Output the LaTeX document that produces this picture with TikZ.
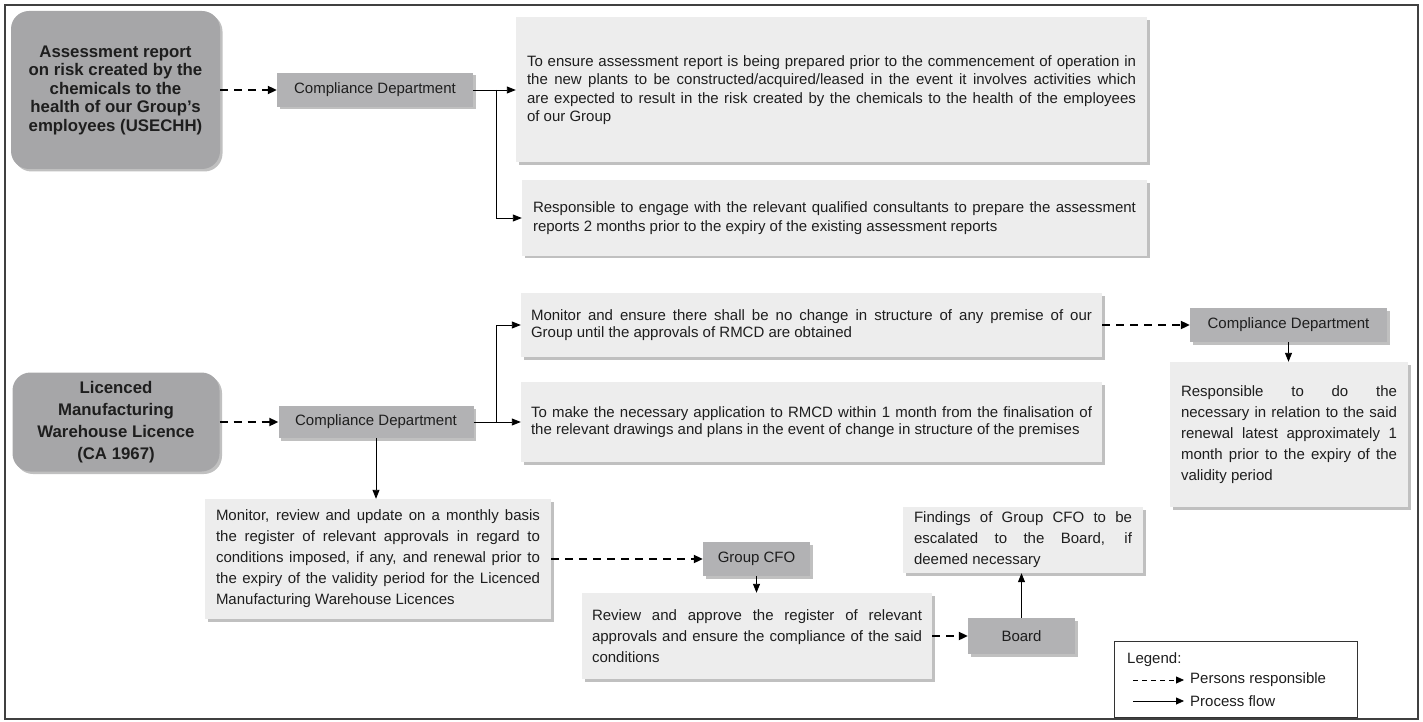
\documentclass[tikz,border=0pt]{standalone}
\usepackage{fontspec}
\setmainfont{Liberation Sans}
\usetikzlibrary{arrows.meta,shadows,positioning}
\definecolor{topicgray}{RGB}{166,166,168}
\definecolor{deptgray}{RGB}{178,178,180}
\definecolor{notegray}{RGB}{237,237,237}
\definecolor{inkgray}{RGB}{30,30,30}
% loose justified paragraphs with the breaks given by hand
\newcommand{\loosepar}{\tolerance=10000\relax\hbadness=10000\relax\hyphenpenalty=10000\relax}
\tikzset{
  boxshadow/.style={drop shadow={shadow xshift=2.5pt,shadow yshift=-2.5pt,opacity=0.45,fill=black!55}},
  topicbox/.style={fill=topicgray, rounded corners=18pt, boxshadow, align=center, inner sep=0pt,
    text=inkgray, font=\fontsize{16.8}{18.5}\selectfont\bfseries},
  deptbox/.style={fill=deptgray, boxshadow, inner sep=0pt, text=inkgray, font=\fontsize{15}{18}\selectfont},
  notebox/.style={fill=notegray, boxshadow, inner xsep=11pt, inner ysep=0pt, align=justify, text=inkgray,
    font=\fontsize{15}{18.5}\selectfont\loosepar},
  tightnote/.style={notebox, inner xsep=10pt, font=\fontsize{15}{17}\selectfont\loosepar},
  loosenote/.style={notebox, font=\fontsize{15}{21}\selectfont\loosepar},
  resp/.style={line width=2pt, dash pattern=on 8pt off 6pt, -{Triangle[length=9pt,width=8pt]}},
  flow/.style={line width=0.9pt, -{Triangle[length=9pt,width=7pt]}},
  legresp/.style={line width=0.8pt, dash pattern=on 5pt off 4pt, -{Triangle[length=8pt,width=7pt]}},
  legflow/.style={line width=0.8pt, -{Triangle[length=8pt,width=7pt]}}
}

\begin{document}
\begin{tikzpicture}[x=1pt, y=-1pt]
  \useasboundingbox (0,0) rectangle (1423,722);
  \draw[line width=1.6pt, black!75] (5,5) rectangle (1418,719);

  % first licence
  \node[topicbox, minimum width=209pt, minimum height=158pt] (asr) at (115.5,90)
    {Assessment report\\on risk created by the\\chemicals to the\\health of our Group’s\\employees (USECHH)};
  \node[deptbox, minimum width=196pt, minimum height=34pt] (cd1) at (375,90) {Compliance Department};
  \node[notebox, minimum height=145pt, text width=609pt] (prep) at (831.5,90)
    {To ensure assessment report is being prepared prior to the commencement of operation in\linebreak
     the new plants to be constructed/acquired/leased in the event it involves activities which\linebreak
     are expected to result in the risk created by the chemicals to the health of the employees\linebreak
     of our Group};
  \node[notebox, minimum height=75pt, text width=603pt] (engage) at (834.5,218)
    {Responsible to engage with the relevant qualified consultants to prepare the assessment\linebreak
     reports 2 months prior to the expiry of the existing assessment reports};

  % second licence
  \node[topicbox, minimum width=207pt, minimum height=99pt, font=\fontsize{16.8}{22}\selectfont\bfseries] (lic) at (116,422)
    {Licenced\\Manufacturing\\Warehouse Licence\\(CA 1967)};
  \node[deptbox, minimum width=195pt, minimum height=32pt] (cd2) at (376,422) {Compliance Department};
  \node[tightnote, minimum height=64pt, text width=561pt] (nochange) at (811.5,325)
    {Monitor and ensure there shall be no change in structure of any premise of our\linebreak
     Group until the approvals of RMCD are obtained};
  \node[tightnote, minimum height=80pt, text width=561pt] (apply) at (811.5,422)
    {To make the necessary application to RMCD within 1 month from the finalisation of\linebreak
     the relevant drawings and plans in the event of change in structure of the premises};
  \node[deptbox, minimum width=197pt, minimum height=34pt] (cd3) at (1288.5,325) {Compliance Department};
  \node[loosenote, minimum height=145pt, text width=216pt] (renew) at (1289,434.5)
    {Responsible to do the\linebreak
     necessary in relation to the said\linebreak
     renewal latest approximately 1\linebreak
     month prior to the expiry of the\linebreak
     validity period};
  \node[loosenote, minimum height=120pt, text width=324pt] (monitor) at (378,559)
    {Monitor, review and update on a monthly basis\linebreak
     the register of relevant approvals in regard to\linebreak
     conditions imposed, if any, and renewal prior to\linebreak
     the expiry of the validity period for the Licenced\linebreak
     Manufacturing Warehouse Licences};
  \node[deptbox, minimum width=107pt, minimum height=34pt] (cfo) at (756.5,559) {Group CFO};
  \node[loosenote, inner xsep=10pt, minimum height=86pt, text width=330pt] (review) at (757,636)
    {Review and approve the register of relevant\linebreak
     approvals and ensure the compliance of the said\linebreak
     conditions};
  \node[deptbox, minimum width=107pt, minimum height=36pt] (board) at (1021.5,636) {Board};
  \node[loosenote, minimum height=66pt, text width=218pt] (findings) at (1023,540)
    {Findings of Group CFO to be\linebreak
     escalated to the Board, if\linebreak
     deemed necessary};

  % connectors
  \coordinate (fork1) at (496,90);
  \coordinate (fork2) at (496,422);
  \draw[resp] (asr) -- (cd1);
  \draw[flow] (cd1) -- (prep);
  \draw[flow] (fork1) |- (engage.west);
  \draw[resp] (lic) -- (cd2);
  \draw[flow] (cd2) -- (apply);
  \draw[flow] (fork2) |- (nochange.west);
  \draw[resp] (nochange) -- (cd3);
  \draw[flow] (cd3.south) -- (cd3.south |- renew.north);
  \draw[flow] (cd2.south) -- (cd2.south |- monitor.north);
  \draw[resp] (monitor) -- (cfo);
  \draw[flow] (cfo.south) -- (cfo.south |- review.north);
  \draw[resp] (review) -- (board);
  \draw[flow] (board.north) -- (board.north |- findings.south);

  % legend
  \node[draw=black!80, line width=0.8pt, minimum width=243pt, minimum height=76pt] (legend) at (1235.5,679) {};
  \node[anchor=west, inner sep=0pt, text=inkgray, font=\fontsize{15}{18}\selectfont] (legtitle) at (1127,660) {Legend:};
  \node[anchor=west, inner sep=0pt, text=inkgray, font=\fontsize{15}{18}\selectfont] (legr) at (1190,680) {Persons responsible};
  \node[anchor=west, inner sep=0pt, text=inkgray, font=\fontsize{15}{18}\selectfont] (legf) at (1190,701) {Process flow};
  \coordinate (legra) at (1133,680);
  \coordinate (legfa) at (1133,701);
  \draw[legresp] (legra) -- ([xshift=-6pt]legr.west);
  \draw[legflow] (legfa) -- ([xshift=-6pt]legf.west);
\end{tikzpicture}
\end{document}
